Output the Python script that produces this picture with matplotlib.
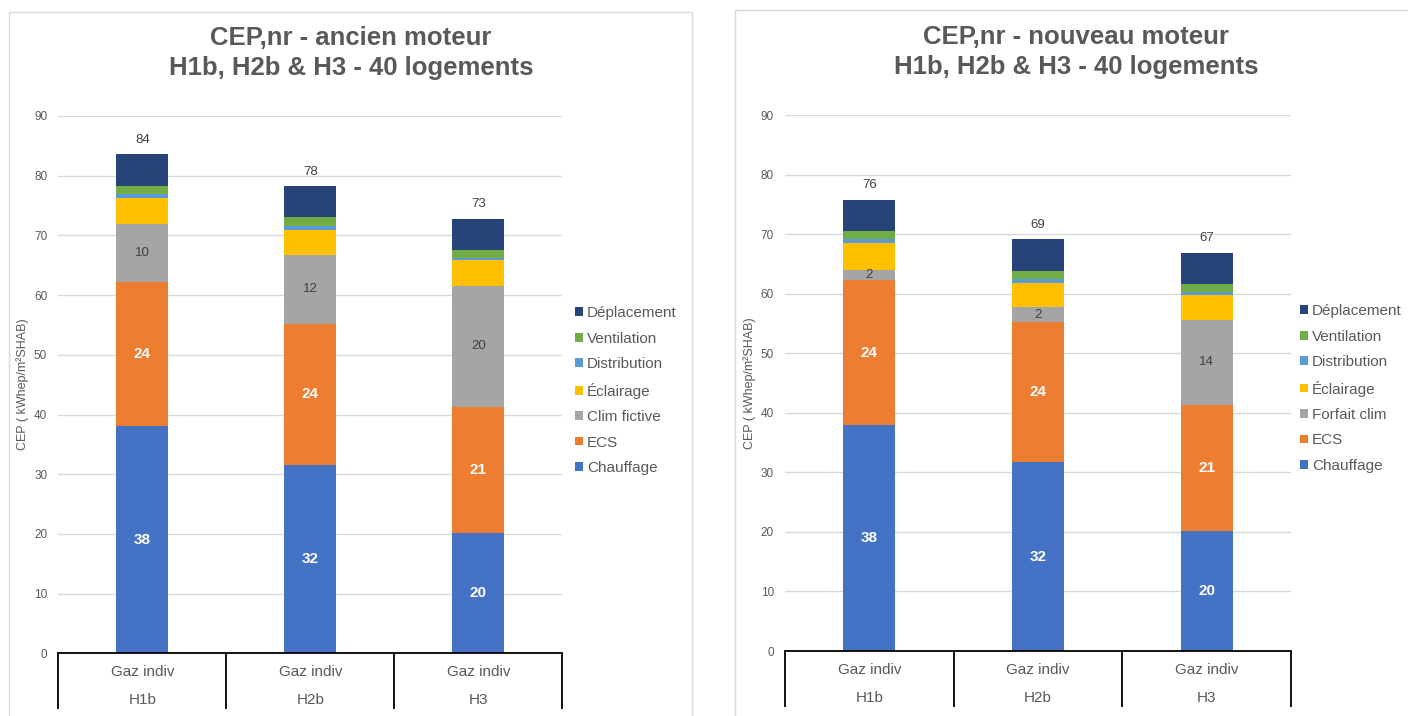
import matplotlib
matplotlib.use('Agg')
import matplotlib.pyplot as plt
from matplotlib.patches import Rectangle, Patch
from matplotlib.transforms import blended_transform_factory
import numpy as np

plt.rcParams['font.family'] = ['Liberation Sans', 'DejaVu Sans']

typologies = ['H1b', 'H2b', 'H3']
energie = 'Gaz indiv'
postes_ancien = ['Chauffage', 'ECS', 'Clim fictive', 'Éclairage', 'Distribution', 'Ventilation', 'Déplacement']
postes_nouveau = ['Chauffage', 'ECS', 'Forfait clim', 'Éclairage', 'Distribution', 'Ventilation', 'Déplacement']

# kWhep/m²SHAB par poste, H1b / H2b / H3
chauffage_ancien = [38.0, 31.6, 20.1]
ecs_ancien = [24.2, 23.6, 21.1]
clim_ancien = [9.7, 11.6, 20.4]
eclairage_ancien = [4.3, 4.1, 4.2]
distribution_ancien = [0.7, 0.7, 0.45]
ventilation_ancien = [1.4, 1.4, 1.35]
deplacement_ancien = [5.3, 5.3, 5.2]

chauffage_nouveau = [37.9, 31.7, 20.1]
ecs_nouveau = [24.4, 23.6, 21.2]
clim_nouveau = [1.7, 2.4, 14.3]
eclairage_nouveau = [4.5, 4.1, 4.1]
distribution_nouveau = [0.65, 0.65, 0.5]
ventilation_nouveau = [1.35, 1.4, 1.5]
deplacement_nouveau = [5.3, 5.35, 5.2]

colors = ['#4472C4', '#ED7D31', '#A5A5A5', '#FFC000', '#5B9BD5', '#70AD47', '#264478']
GREY_TXT = '#595959'

W, H = 1408, 716


def plot_panel(fig, rect, title, postes, series, legend_x, legend_y):
    ax = fig.add_axes(rect)
    x = np.arange(len(typologies))
    bottom = np.zeros(len(typologies))
    containers = []
    for name, vals, col in zip(postes, series, colors):
        vals = np.array(vals)
        bc = ax.bar(x, vals, 0.31, bottom=bottom, color=col, label=name, zorder=3)
        containers.append(bc)
        bottom = bottom + vals

    ax.bar_label(containers[0], fmt='%.0f', label_type='center', color='white',
                 fontsize=11, fontweight='bold')
    ax.bar_label(containers[1], fmt='%.0f', label_type='center', color='white',
                 fontsize=11, fontweight='bold')
    ax.bar_label(containers[2], fmt='%.0f', label_type='center', color='#404040',
                 fontsize=9.5)
    ax.bar_label(containers[-1], labels=[f'{t:.0f}' for t in bottom], padding=6,
                 color='#404040', fontsize=9.5)

    ax.set_xlim(-0.5, len(typologies) - 0.5)
    ax.set_ylim(0, 90)
    ax.set_yticks(range(0, 91, 10))
    ax.tick_params(axis='y', length=0, pad=8, labelsize=8.5, labelcolor=GREY_TXT)
    ax.set_xticks([])
    ax.grid(axis='y', color='#D9D9D9', linewidth=1, zorder=0)
    for s in ['top', 'right', 'left']:
        ax.spines[s].set_visible(False)
    ax.spines['bottom'].set_color('black')
    ax.spines['bottom'].set_linewidth(1.3)
    ax.spines['bottom'].set_zorder(4)

    ax.set_ylabel('CEP ( kWhep/m²SHAB)', fontsize=9, color=GREY_TXT)
    ax.yaxis.set_label_coords(-0.058, 0.5)

    # axe des catégories sur deux niveaux
    trans = blended_transform_factory(ax.transData, ax.transAxes)
    for b in np.arange(len(typologies) + 1) - 0.5:
        ax.plot([b, b], [0, -0.104], transform=trans, color='black', lw=1.3,
                clip_on=False, solid_capstyle='butt')
    for i, t in enumerate(typologies):
        ax.text(i, -0.035, energie, transform=trans, ha='center', va='center',
                fontsize=11, color=GREY_TXT)
        ax.text(i, -0.087, t, transform=trans, ha='center', va='center',
                fontsize=11, color=GREY_TXT)

    fig.text(title[0], title[1], title[2], ha='center', va='center', fontsize=18.5,
             fontweight='bold', color=GREY_TXT, linespacing=1.3)

    handles = [Patch(facecolor=c, label=p) for p, c in zip(postes, colors)][::-1]
    ax.legend(handles=handles, loc='center left', bbox_to_anchor=(legend_x, legend_y),
              bbox_transform=fig.transFigure, frameon=False, fontsize=11,
              handlelength=0.5, handleheight=0.5, handletextpad=0.3,
              labelspacing=0.75, borderpad=0, borderaxespad=0, labelcolor=GREY_TXT)
    return ax


def main():
    fig = plt.figure(figsize=(W / 100, H / 100), dpi=100)

    # cadres des deux graphiques
    fig.patches.append(Rectangle((9 / W, -0.01), (692 - 9) / W, (H - 12) / H + 0.01,
                                 transform=fig.transFigure, fill=False,
                                 edgecolor='#D9D9D9', lw=1))
    fig.patches.append(Rectangle((735 / W, -0.01), 0.5, (H - 10) / H + 0.01,
                                 transform=fig.transFigure, fill=False,
                                 edgecolor='#D9D9D9', lw=1))

    series_ancien = [chauffage_ancien, ecs_ancien, clim_ancien, eclairage_ancien,
                     distribution_ancien, ventilation_ancien, deplacement_ancien]
    series_nouveau = [chauffage_nouveau, ecs_nouveau, clim_nouveau, eclairage_nouveau,
                      distribution_nouveau, ventilation_nouveau, deplacement_nouveau]

    plot_panel(fig, [58.3 / W, (H - 653.3) / H, 504 / W, 537.3 / H],
               (351 / W, 1 - 53 / H, 'CEP,nr - ancien moteur\nH1b, H2b & H3 - 40 logements'),
               postes_ancien, series_ancien, 575 / W, 1 - 390.6 / H)
    plot_panel(fig, [785 / W, (H - 651) / H, 506 / W, 536 / H],
               (1076 / W, 1 - 52 / H, 'CEP,nr - nouveau moteur\nH1b, H2b & H3 - 40 logements'),
               postes_nouveau, series_nouveau, 1300 / W, 1 - 388.5 / H)

    plt.savefig('out.png', dpi=100)


if __name__ == "__main__":
    main()
